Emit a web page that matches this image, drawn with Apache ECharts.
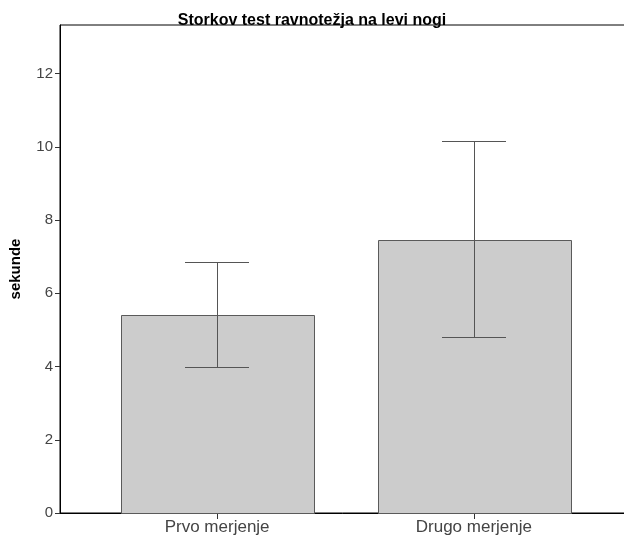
<!DOCTYPE html>
<html>
<head>
<meta charset="utf-8">
<script src="https://cdn.jsdelivr.net/npm/echarts@6/dist/echarts.min.js"></script>
<style>html,body{margin:0;padding:0;background:#fff}#c{width:624px;height:542px}</style>
</head>
<body>
<div id="c"></div>
<script>
const titleText = 'Storkov test ravnotežja na levi nogi';
const yName = 'sekunde';
const categories = ['Prvo merjenje', 'Drugo merjenje'];
const means = [5.41, 7.47];
const lower = [3.98, 4.81];
const upper = [6.85, 10.15];
const yTicks = [0, 2, 4, 6, 8, 10, 12];

const chart = echarts.init(document.getElementById('c'), null, {renderer: 'canvas'});
const catPos = categories.map((c, i) => i);
const barData = categories.map((c, i) => [i, means[i]]);
const errData = categories.map((c, i) => [i, lower[i], upper[i]]);

chart.setOption({
  animation: false,
  backgroundColor: '#fff',
  title: {
    text: titleText, left: 'center', top: 8,
    textStyle: {fontFamily: 'Liberation Sans, Arial', fontSize: 16, fontWeight: 'bold', color: '#000'}
  },
  grid: {left: 60, right: -7, top: 25, bottom: 29, containLabel: false, outerBoundsMode: 'none',
    show: true, borderColor: '#000', borderWidth: 1},
  xAxis: {
    type: 'value', min: -0.612, max: 1.612,
    splitLine: {show: false},
    axisLine: {show: true, onZero: false, lineStyle: {color: '#000', width: 1}},
    axisTick: {show: true, customValues: catPos, length: 5, lineStyle: {color: '#333'}},
    axisLabel: {customValues: catPos, formatter: v => categories[Math.round(v)] || '', color: '#444',
      fontFamily: 'Liberation Sans, Arial', fontSize: 17, margin: 6}
  },
  yAxis: {
    type: 'value', min: 0, max: 13.33,
    name: yName, nameLocation: 'middle', nameRotate: 90, nameGap: 37,
    nameTextStyle: {fontFamily: 'Liberation Sans, Arial', fontSize: 15, fontWeight: 'bold', color: '#000'},
    splitLine: {show: false},
    axisLine: {show: true, onZero: false, lineStyle: {color: '#000', width: 1}},
    axisTick: {show: true, customValues: yTicks, length: 5, lineStyle: {color: '#333'}},
    axisLabel: {customValues: yTicks, color: '#444', fontFamily: 'Liberation Sans, Arial', fontSize: 15, margin: 7}
  },
  series: [
    {
      type: 'custom',
      data: barData,
      clip: false,
      renderItem: function (params, api) {
        const x = api.value(0), y = api.value(1);
        const p0 = api.coord([x - 0.375, 0]);
        const p1 = api.coord([x + 0.375, y]);
        const c0 = api.coord([x, 0]);
        const tx = Math.round(c0[0]) + 0.5;
        return {
          type: 'group',
          children: [
            {
              type: 'rect',
              shape: {x: Math.round(p0[0]) + 0.5, y: Math.round(p1[1]) + 0.5, width: Math.round(p1[0] - p0[0]), height: Math.round(p0[1] - p1[1])},
              style: {fill: '#cccccc', stroke: '#5a5a5a', lineWidth: 1}
            },
            {type: 'line', shape: {x1: tx, y1: Math.round(c0[1]) + 1, x2: tx, y2: Math.round(c0[1]) + 6}, style: {stroke: '#333', lineWidth: 1}}
          ]
        };
      }
    },
    {
      type: 'custom',
      data: errData,
      z: 3,
      renderItem: function (params, api) {
        const x = api.value(0), lo = api.value(1), hi = api.value(2);
        const a = api.coord([x, lo]), b = api.coord([x, hi]);
        const l = api.coord([x - 0.125, lo]), r = api.coord([x + 0.125, lo]);
        const cx = Math.round(a[0]) + 0.5;
        const ya = Math.round(a[1]) + 0.5, yb = Math.round(b[1]) + 0.5;
        const xl = Math.round(l[0]), xr = Math.round(r[0]);
        const st = {stroke: '#555', lineWidth: 1};
        return {
          type: 'group',
          children: [
            {type: 'line', shape: {x1: cx, y1: ya, x2: cx, y2: yb}, style: st},
            {type: 'line', shape: {x1: xl, y1: ya, x2: xr, y2: ya}, style: st},
            {type: 'line', shape: {x1: xl, y1: yb, x2: xr, y2: yb}, style: st}
          ]
        };
      }
    }
  ]
});
</script>
</body>
</html>
